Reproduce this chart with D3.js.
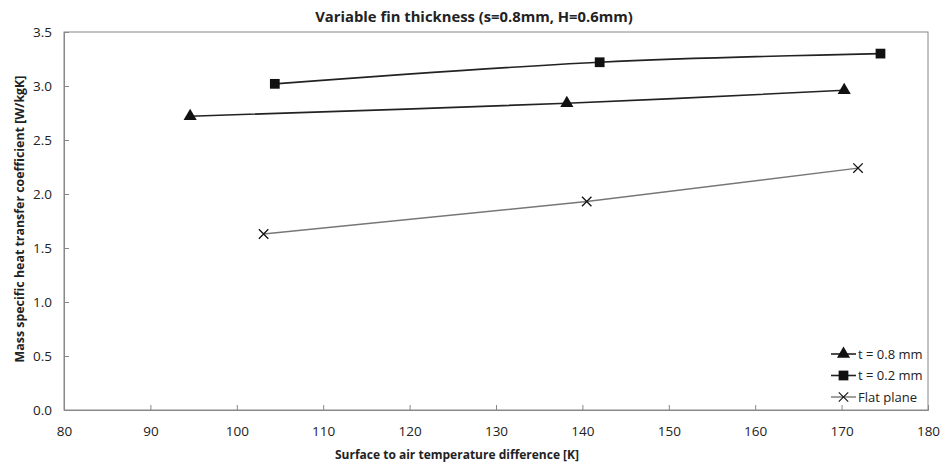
<!DOCTYPE html>
<html>
<head>
<meta charset="utf-8">
<script src="https://cdn.jsdelivr.net/npm/d3@7"></script>
<style>
  body { margin: 0; background: #fff; }
  text { font-family: "Open Sans", sans-serif; fill: #222; }
</style>
</head>
<body>
<svg id="chart" width="940" height="466"></svg>
<script>
//----------data----------
const xTicks = [80, 90, 100, 110, 120, 130, 140, 150, 160, 170, 180];
const yTicks = [0, 0.5, 1.0, 1.5, 2.0, 2.5, 3.0, 3.5];

const thick08_x = [94.6, 138.2, 170.3];
const thick08_y = [2.72, 2.84, 2.96];

const thick02_x = [104.4, 142.0, 174.5];
const thick02_y = [3.02, 3.22, 3.30];

const flat_x = [103.1, 140.5, 171.9];
const flat_y = [1.63, 1.93, 2.24];

const seriesNames = ["t = 0.8 mm", "t = 0.2 mm", "Flat plane"];

//----------setup----------
const svg = d3.select("#chart");
const margin = {top: 32, right: 12, bottom: 56, left: 64};
const width = 940, height = 466;

const x = d3.scaleLinear().domain([80, 180]).range([margin.left, width - margin.right]);
const y = d3.scaleLinear().domain([0, 3.5]).range([height - margin.bottom, margin.top]);

// plot frame
svg.append("rect")
  .attr("x", x(80)).attr("y", y(3.5))
  .attr("width", x(180) - x(80)).attr("height", y(0) - y(3.5))
  .attr("fill", "none").attr("stroke", "#888").attr("stroke-width", 1);

// x axis, ticks pointing inward
const xAxis = svg.append("g")
  .attr("transform", `translate(0,${y(0)})`)
  .call(d3.axisBottom(x).tickValues(xTicks).tickSize(-5).tickPadding(16).tickFormat(d3.format("d")));
xAxis.select(".domain").attr("stroke", "#888");
xAxis.selectAll(".tick line").attr("stroke", "#888");
xAxis.selectAll("text").style("font-size", "13.5px").attr("fill", "#222");

// y axis
const yAxis = svg.append("g")
  .attr("transform", `translate(${x(80)},0)`)
  .call(d3.axisLeft(y).tickValues(yTicks).tickSize(-5).tickPadding(12).tickFormat(d3.format(".1f")));
yAxis.select(".domain").attr("stroke", "#888");
yAxis.selectAll(".tick line").attr("stroke", "#888");
yAxis.selectAll("text").style("font-size", "13.5px").attr("fill", "#222");

// titles
svg.append("text")
  .attr("x", 474).attr("y", 22)
  .attr("text-anchor", "middle")
  .style("font-size", "14.8px").style("font-weight", "bold")
  .text("Variable fin thickness (s=0.8mm, H=0.6mm)");

svg.append("text")
  .attr("x", 457).attr("y", 459)
  .attr("text-anchor", "middle")
  .style("font-size", "12px").style("font-weight", "bold")
  .text("Surface to air temperature difference [K]");

svg.append("text")
  .attr("transform", `translate(24,219) rotate(-90)`)
  .attr("text-anchor", "middle")
  .style("font-size", "12.4px").style("font-weight", "bold")
  .text("Mass specific heat transfer coefficient [W/kgK]");

//----------series----------
function zipPts(xs, ys) { return xs.map((d, i) => [d, ys[i]]); }

const smoothLine = d3.line().x(d => x(d[0])).y(d => y(d[1])).curve(d3.curveCatmullRom.alpha(0.5));
const straightLine = d3.line().x(d => x(d[0])).y(d => y(d[1]));

const triangle = d3.symbol().type(d3.symbolTriangle).size(75);
const square = d3.symbol().type(d3.symbolSquare).size(95);
const cross = d3.symbol().type(d3.symbolX).size(60);

const series = [
  {pts: zipPts(thick08_x, thick08_y), line: smoothLine, color: "#222", lw: 1.6, sym: triangle, fill: true},
  {pts: zipPts(thick02_x, thick02_y), line: smoothLine, color: "#222", lw: 1.6, sym: square, fill: true},
  {pts: zipPts(flat_x, flat_y), line: straightLine, color: "#777", lw: 1.4, sym: cross, fill: false}
];

series.forEach(s => {
  svg.append("path")
    .attr("d", s.line(s.pts))
    .attr("fill", "none").attr("stroke", s.color).attr("stroke-width", s.lw);
  svg.append("g").selectAll("path")
    .data(s.pts).join("path")
    .attr("transform", d => `translate(${x(d[0])},${y(d[1])})`)
    .attr("d", s.sym)
    .attr("fill", s.fill ? "#111" : "none")
    .attr("stroke", "#111").attr("stroke-width", s.fill ? 0 : 1.3);
});

//----------legend----------
const legend = svg.append("g").attr("transform", "translate(831,354)");
series.forEach((s, i) => {
  const g = legend.append("g").attr("transform", `translate(0,${i * 21.5})`);
  g.append("line").attr("x1", 0).attr("x2", 25).attr("y1", 0).attr("y2", 0)
    .attr("stroke", s.color).attr("stroke-width", s.lw);
  g.append("path").attr("transform", "translate(12.5,0)").attr("d", s.sym)
    .attr("fill", s.fill ? "#111" : "none")
    .attr("stroke", "#111").attr("stroke-width", s.fill ? 0 : 1.1);
  g.append("text").attr("x", 27).attr("y", 4.5)
    .style("font-size", "13px").text(seriesNames[i]);
});
</script>
</body>
</html>
